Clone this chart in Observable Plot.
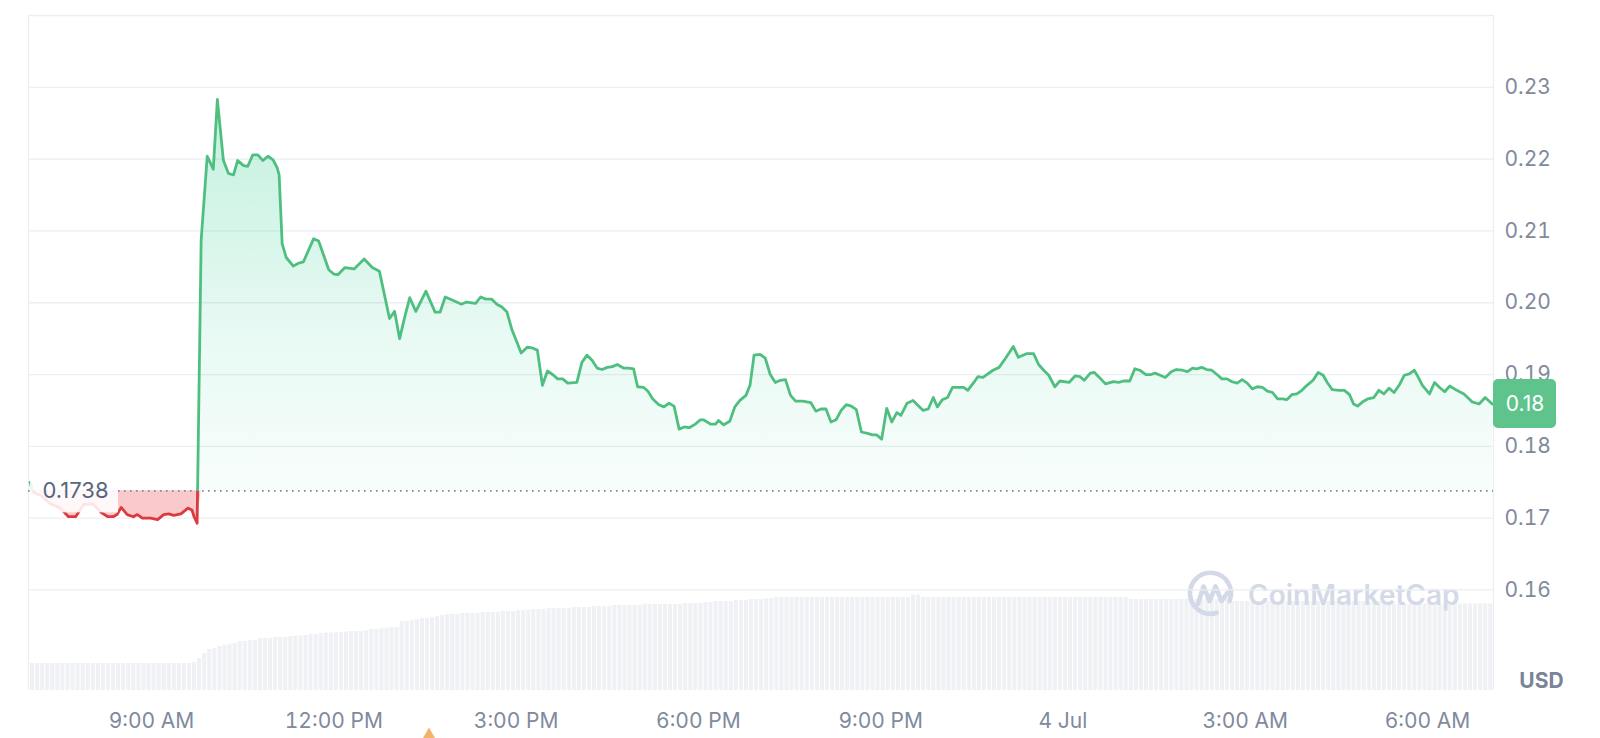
<!DOCTYPE html>
<html>
<head>
<meta charset="utf-8">
<script src="https://cdn.jsdelivr.net/npm/d3@7"></script>
<script src="https://cdn.jsdelivr.net/npm/@observablehq/plot@0.6"></script>
<style>
  html, body { margin: 0; padding: 0; background: #ffffff; }
  #wrap { position: relative; width: 1600px; height: 738px; overflow: hidden; }
  #wrap svg { position: absolute; left: 0; top: 0; }
</style>
</head>
<body>
<div id="wrap"></div>
<script>
// ---------------- DATA ----------------
const startTime = "2024-07-03T07:00:00Z";

// price samples: minutes after startTime, and price in USD
const priceMinutes = [
  0, 3, 10, 20, 30, 38, 45, 53, 62, 70, 77, 82, 86, 90, 96, 102, 106, 111, 119, 126,
  132, 137, 142, 149, 156, 160, 162, 165, 169, 175, 181, 185, 191, 196, 201, 205, 211, 215, 220, 225,
  230, 235, 240, 244, 246, 249, 253, 260, 265, 270, 280, 285, 295, 300, 304, 311, 320, 330, 338, 345,
  355, 360, 365, 370, 375, 381, 391, 400, 405, 410, 418, 426, 431, 440, 445, 450, 456, 461, 466, 471,
  476, 480, 485, 491, 496, 501, 506, 511, 517, 521, 526, 531, 540, 545, 550, 555, 560, 565, 570, 575,
  580, 586, 591, 596, 600, 606, 610, 615, 621, 626, 631, 636, 641, 646, 651, 657, 662, 665, 672, 677,
  680, 685, 691, 696, 701, 707, 711, 715, 721, 726, 731, 736, 741, 746, 751, 756, 763, 771, 776, 781,
  786, 791, 796, 801, 806, 811, 816, 821, 827, 832, 836, 841, 846, 851, 856, 860, 866, 872, 877, 882,
  887, 892, 896, 901, 906, 911, 916, 922, 926, 932, 936, 941, 951, 957, 963, 971, 976, 984, 991, 996,
  1001, 1006, 1012, 1017, 1026, 1032, 1037, 1041, 1047, 1051, 1056, 1062, 1070, 1075, 1080, 1086, 1091, 1096, 1102, 1107,
  1111, 1116, 1121, 1127, 1132, 1138, 1143, 1148, 1152, 1157, 1162, 1167, 1173, 1177, 1182, 1187, 1192, 1197, 1202, 1207,
  1212, 1217, 1222, 1227, 1232, 1237, 1241, 1246, 1251, 1256, 1261, 1267, 1272, 1277, 1281, 1286, 1293, 1298, 1303, 1307,
  1311, 1316, 1321, 1327, 1332, 1337, 1342, 1347, 1352, 1357, 1362, 1367, 1371, 1375, 1382, 1387, 1392, 1397, 1402, 1409,
  1416, 1424, 1431, 1437, 1444
];
const priceValues = [
  0.1750, 0.1736, 0.1732, 0.1720, 0.1714, 0.1702, 0.1702, 0.1719, 0.1720, 0.1708, 0.1702, 0.1702, 0.1705, 0.1715, 0.1705, 0.1702, 0.1705, 0.1700, 0.1700, 0.1698,
  0.1705, 0.1706, 0.1704, 0.1706, 0.1714, 0.1711, 0.1702, 0.1693, 0.2087, 0.2204, 0.2186, 0.2283, 0.2198, 0.2180, 0.2178, 0.2198, 0.2191, 0.2190, 0.2206, 0.2206,
  0.2198, 0.2204, 0.2199, 0.2188, 0.2178, 0.2082, 0.2063, 0.2051, 0.2055, 0.2057, 0.2089, 0.2086, 0.2046, 0.2040, 0.2039, 0.2049, 0.2047, 0.2061, 0.2049, 0.2044,
  0.1978, 0.1988, 0.1950, 0.1980, 0.2007, 0.1988, 0.2016, 0.1987, 0.1987, 0.2008, 0.2003, 0.1998, 0.2001, 0.1999, 0.2008, 0.2005, 0.2005, 0.1998, 0.1994, 0.1987,
  0.1962, 0.1948, 0.1930, 0.1938, 0.1937, 0.1934, 0.1885, 0.1905, 0.1899, 0.1894, 0.1894, 0.1888, 0.1889, 0.1917, 0.1927, 0.1920, 0.1909, 0.1907, 0.1910, 0.1911,
  0.1914, 0.1909, 0.1909, 0.1908, 0.1883, 0.1882, 0.1877, 0.1866, 0.1858, 0.1855, 0.1860, 0.1856, 0.1824, 0.1827, 0.1826, 0.1831, 0.1837, 0.1837, 0.1831, 0.1831,
  0.1836, 0.1830, 0.1835, 0.1855, 0.1864, 0.1871, 0.1885, 0.1927, 0.1928, 0.1923, 0.1900, 0.1889, 0.1892, 0.1893, 0.1871, 0.1863, 0.1863, 0.1861, 0.1849, 0.1852,
  0.1852, 0.1834, 0.1837, 0.1850, 0.1858, 0.1856, 0.1851, 0.1820, 0.1818, 0.1816, 0.1816, 0.1810, 0.1853, 0.1834, 0.1847, 0.1843, 0.1860, 0.1864, 0.1857, 0.1850,
  0.1852, 0.1868, 0.1855, 0.1865, 0.1868, 0.1882, 0.1882, 0.1882, 0.1878, 0.1889, 0.1897, 0.1896, 0.1906, 0.1910, 0.1922, 0.1939, 0.1924, 0.1929, 0.1929, 0.1914,
  0.1906, 0.1899, 0.1883, 0.1891, 0.1889, 0.1898, 0.1897, 0.1892, 0.1902, 0.1903, 0.1896, 0.1887, 0.1890, 0.1889, 0.1891, 0.1891, 0.1908, 0.1906, 0.1900, 0.1900,
  0.1902, 0.1899, 0.1896, 0.1904, 0.1907, 0.1906, 0.1904, 0.1909, 0.1908, 0.1910, 0.1907, 0.1906, 0.1899, 0.1894, 0.1894, 0.1890, 0.1888, 0.1893, 0.1888, 0.1880,
  0.1883, 0.1882, 0.1877, 0.1875, 0.1866, 0.1866, 0.1865, 0.1872, 0.1873, 0.1878, 0.1885, 0.1892, 0.1903, 0.1899, 0.1889, 0.1879, 0.1878, 0.1878, 0.1872, 0.1859,
  0.1856, 0.1862, 0.1866, 0.1868, 0.1878, 0.1873, 0.1881, 0.1875, 0.1885, 0.1899, 0.1901, 0.1906, 0.1896, 0.1885, 0.1873, 0.1889, 0.1882, 0.1876, 0.1884, 0.1878,
  0.1873, 0.1862, 0.1859, 0.1868, 0.1859
];

// 24h volume bars, one every 5 minutes from startTime (millions USD)
const volumeValues = [
  2.7, 2.7, 2.7, 2.7, 2.7, 2.7, 2.7, 2.7, 2.7, 2.7,
  2.7, 2.7, 2.7, 2.7, 2.7, 2.7, 2.7, 2.7, 2.7, 2.7,
  2.7, 2.7, 2.7, 2.7, 2.7, 2.7, 2.7, 2.7, 2.7, 2.7,
  2.7, 2.7, 2.8, 3.2, 3.7, 4.1, 4.2, 4.4, 4.5, 4.6,
  4.7, 4.9, 4.9, 5.0, 5.0, 5.2, 5.2, 5.2, 5.3, 5.3,
  5.3, 5.4, 5.45, 5.45, 5.5, 5.6, 5.6, 5.7, 5.75, 5.75,
  5.8, 5.8, 5.85, 5.9, 5.9, 5.9, 6.0, 6.1, 6.1, 6.2,
  6.2, 6.3, 6.3, 6.9, 6.9, 7.0, 7.1, 7.2, 7.2, 7.3,
  7.4, 7.5, 7.6, 7.6, 7.6, 7.7, 7.7, 7.7, 7.7, 7.8,
  7.8, 7.8, 7.8, 7.9, 7.9, 7.9, 8.0, 8.0, 8.0, 8.1,
  8.1, 8.1, 8.2, 8.2, 8.2, 8.2, 8.2, 8.3, 8.3, 8.3,
  8.3, 8.4, 8.4, 8.4, 8.4, 8.5, 8.5, 8.5, 8.5, 8.5,
  8.5, 8.6, 8.6, 8.6, 8.6, 8.6, 8.6, 8.6, 8.6, 8.7,
  8.7, 8.7, 8.7, 8.8, 8.8, 8.9, 8.9, 8.9, 8.9, 9.0,
  9.0, 9.0, 9.1, 9.1, 9.1, 9.2, 9.2, 9.3, 9.3, 9.3,
  9.3, 9.3, 9.3, 9.3, 9.3, 9.3, 9.3, 9.3, 9.3, 9.3,
  9.3, 9.3, 9.3, 9.3, 9.3, 9.3, 9.3, 9.3, 9.3, 9.3,
  9.3, 9.3, 9.3, 9.3, 9.55, 9.55, 9.3, 9.3, 9.3, 9.3,
  9.3, 9.3, 9.3, 9.3, 9.3, 9.3, 9.3, 9.3, 9.3, 9.3,
  9.3, 9.3, 9.3, 9.3, 9.3, 9.3, 9.3, 9.3, 9.3, 9.3,
  9.3, 9.3, 9.3, 9.3, 9.3, 9.3, 9.3, 9.3, 9.3, 9.3,
  9.3, 9.3, 9.3, 9.3, 9.3, 9.3, 9.3, 9.1, 9.1, 9.1,
  9.1, 9.1, 9.1, 9.1, 9.1, 9.1, 9.1, 9.1, 9.1, 9.1,
  9.1, 9.1, 9.1, 9.1, 9.1, 9.1, 9.1, 8.9, 8.9, 8.9,
  8.9, 8.9, 8.9, 8.9, 8.9, 8.9, 8.9, 8.9, 8.9, 8.9,
  8.9, 8.9, 8.9, 8.9, 8.9, 8.9, 8.9, 8.9, 8.9, 8.9,
  8.9, 8.9, 8.9, 8.9, 8.9, 8.9, 8.9, 8.9, 8.9, 8.65,
  8.65, 8.65, 8.65, 8.65, 8.65, 8.65, 8.65, 8.65, 8.65, 8.65,
  8.65, 8.65, 8.65, 8.65, 8.65, 8.65, 8.65, 8.65, 8.65
];

const openPrice = 0.1738;
const openLabel = "0.1738";
const lastLabel = "0.18";
const yTicks = [0.16, 0.17, 0.18, 0.19, 0.20, 0.21, 0.22, 0.23];
const yTickLabels = ["0.16", "0.17", "0.18", "0.19", "0.20", "0.21", "0.22", "0.23"];
const gridValues = [0.16, 0.17, 0.18, 0.19, 0.20, 0.21, 0.22, 0.23, 0.24];
const xTickTimes = [
  "2024-07-03T09:00:00Z", "2024-07-03T12:00:00Z", "2024-07-03T15:00:00Z", "2024-07-03T18:00:00Z",
  "2024-07-03T21:00:00Z", "2024-07-04T00:00:00Z", "2024-07-04T03:00:00Z", "2024-07-04T06:00:00Z"
];
const xTickLabels = ["9:00 AM", "12:00 PM", "3:00 PM", "6:00 PM", "9:00 PM", "4 Jul", "3:00 AM", "6:00 AM"];
const eventTimes = ["2024-07-03T13:34:00Z"];
const unitLabel = "USD";
const watermarkText = "CoinMarketCap";

// ---------------- BUILD ----------------
const t0 = new Date(startTime).getTime();
const MIN = 60000;
const price = priceMinutes.map((m, i) => ({ time: new Date(t0 + m * MIN), price: priceValues[i] }));
const volume = volumeValues.map((v, i) => ({
  start: new Date(t0 + i * 5 * MIN),
  end: new Date(t0 + (i + 1) * 5 * MIN),
  vol: v
}));
const xDomain = [new Date(t0 - 1.5 * MIN), new Date(t0 + 1445.2 * MIN)];
const tickDates = xTickTimes.map(s => new Date(s));
const lastPrice = priceValues[priceValues.length - 1];

const W = 1600, H = 738;
const M = { left: 28, right: 107, top: 15, bottom: 48 };
const GRID = "#eceef1";
const AXIS_TEXT = "#808a9d";
const GREEN_LINE = "#4fbf80";
const RED_LINE = "#dc3a3f";
const FONT = "Inter, 'Noto Sans', sans-serif";
const SVGNS = "http://www.w3.org/2000/svg";

const volPlot = Plot.plot({
  width: W, height: H,
  marginLeft: M.left, marginRight: M.right, marginTop: M.top, marginBottom: M.bottom,
  style: { background: "transparent" },
  x: { type: "utc", domain: xDomain, axis: null },
  y: { domain: [0, 10], range: [H - M.bottom, H - M.bottom - 100], axis: null },
  marks: [
    Plot.rectY(volume, { x1: "start", x2: "end", y: "vol", fill: "#eff1f5", insetLeft: 0.5, insetRight: 0.5 })
  ]
});

const pricePlot = Plot.plot({
  width: W, height: H,
  marginLeft: M.left, marginRight: M.right, marginTop: M.top, marginBottom: M.bottom,
  style: { background: "transparent", fontFamily: FONT, fontSize: "21px", color: AXIS_TEXT, overflow: "visible" },
  x: {
    type: "utc", domain: xDomain, ticks: tickDates,
    tickFormat: d => xTickLabels[tickDates.findIndex(t => +t === +d)],
    tickSize: 0, tickPadding: 23, label: null
  },
  y: {
    domain: [0.146, 0.24], axis: "right", ticks: yTicks,
    tickFormat: d => yTickLabels[yTicks.indexOf(d)],
    tickSize: 0, tickPadding: 11, label: null
  },
  marks: [
    Plot.ruleY(gridValues, { stroke: GRID, strokeWidth: 1.3 }),
    Plot.ruleX(xDomain, { y1: 0.146, y2: 0.24, stroke: GRID, strokeWidth: 1.3 }),
    Plot.areaY(price, { x: "time", y1: () => openPrice, y2: d => Math.max(d.price, openPrice), fill: "url(#greenFill)" }),
    Plot.areaY(price, { x: "time", y1: () => openPrice, y2: d => Math.min(d.price, openPrice), fill: "#ea3943", fillOpacity: 0.27 }),
    Plot.ruleY([openPrice], { stroke: "#7d879b", strokeWidth: 1.6, strokeDasharray: "1.6,4.4" }),
    Plot.line(price, { x: "time", y: "price", stroke: RED_LINE, strokeWidth: 2.8, strokeLinejoin: "round", ariaDescription: "red-line" }),
    Plot.line(price, { x: "time", y: "price", stroke: GREEN_LINE, strokeWidth: 2.8, strokeLinejoin: "round", ariaDescription: "green-line" }),
    Plot.text([openLabel], { y: () => openPrice, frameAnchor: "left", dx: 14, text: d => d, textAnchor: "start", fill: "#58667e", fontSize: 22, ariaDescription: "open-label" }),
    Plot.text([lastLabel], { y: () => lastPrice, frameAnchor: "right", dx: 31.5, text: d => d, textAnchor: "middle", fill: "#ffffff", fontSize: 21, ariaDescription: "last-badge" }),
    Plot.text([unitLabel], { frameAnchor: "bottom-right", dx: 48, dy: -9, text: d => d, textAnchor: "middle", lineAnchor: "middle", fill: "#7a8498", fontSize: 21, fontWeight: "bold" }),
    Plot.dot(eventTimes, { x: d => new Date(d), frameAnchor: "bottom", dy: 48, symbol: "triangle", r: 7, fill: "#f2b46a", stroke: "none" })
  ]
});

const wrap = document.getElementById("wrap");
wrap.append(volPlot, pricePlot);

// ---------- decorations via d3 ----------
const svg = d3.select(pricePlot);
const ys = pricePlot.scale("y");
const xs = pricePlot.scale("x");
const yBase = ys.apply(openPrice);
const xLeft = xs.range[0];
const xRight = xs.range[1];

const defs = svg.insert("defs", ":first-child");
const grad = defs.append("linearGradient").attr("id", "greenFill")
  .attr("x1", 0).attr("y1", 0).attr("x2", 0).attr("y2", 1);
grad.append("stop").attr("offset", "0%").attr("stop-color", "#16c784").attr("stop-opacity", 0.26);
grad.append("stop").attr("offset", "60%").attr("stop-color", "#16c784").attr("stop-opacity", 0.1);
grad.append("stop").attr("offset", "100%").attr("stop-color", "#16c784").attr("stop-opacity", 0.03);
defs.append("clipPath").attr("id", "clipAbove")
  .append("rect").attr("x", 0).attr("y", 0).attr("width", W).attr("height", yBase);
defs.append("clipPath").attr("id", "clipBelow")
  .append("rect").attr("x", 0).attr("y", yBase).attr("width", W).attr("height", H - yBase);

svg.select('g[aria-description="red-line"]').attr("clip-path", "url(#clipBelow)");
svg.select('g[aria-description="green-line"]').attr("clip-path", "url(#clipAbove)");

// white box behind the open price label
const openNode = svg.select('g[aria-description="open-label"]').node();
let textEnd = xLeft + 14 + 66;
const openText = openNode.querySelector("text");
if (openText && openText.getComputedTextLength) {
  const len = openText.getComputedTextLength();
  if (len > 0) textEnd = xLeft + 14 + len;
}
const box = document.createElementNS(SVGNS, "rect");
box.setAttribute("x", xLeft + 2);
box.setAttribute("y", yBase - 15);
box.setAttribute("width", textEnd + 10 - (xLeft + 2));
box.setAttribute("height", 37);
box.setAttribute("fill", "#ffffff");
box.setAttribute("fill-opacity", "0.87");
openNode.parentNode.insertBefore(box, openNode);

// green badge behind last price
const badgeNode = svg.select('g[aria-description="last-badge"]').node();
const yLast = ys.apply(lastPrice);
const badge = document.createElementNS(SVGNS, "rect");
badge.setAttribute("x", xRight);
badge.setAttribute("y", yLast - 24.5);
badge.setAttribute("width", 63);
badge.setAttribute("height", 49);
badge.setAttribute("rx", 5);
badge.setAttribute("fill", "#5ec48c");
badgeNode.parentNode.appendChild(badge);
badgeNode.parentNode.appendChild(badgeNode);

// watermark on the volume layer
const vs = d3.select(volPlot);
const wm = vs.append("g").attr("fill", "none").attr("stroke", "#d3d9e6")
  .attr("stroke-width", 4.6).attr("stroke-linecap", "round").attr("stroke-linejoin", "round");
wm.append("path").attr("d", "M1216.8,612.8 A20.5,20.5 0 1 1 1229.5,601");
wm.append("path").attr("d", "M1198,604 L1203.5,586.5 L1209.5,601 L1215.5,586.5 L1221.5,601 L1227.5,593");
vs.append("text").attr("x", 1248).attr("y", 605).attr("text-anchor", "start")
  .attr("font-family", FONT).attr("font-size", 28).attr("font-weight", 600)
  .attr("fill", "#d3d9e6").text(watermarkText);
</script>
</body>
</html>
